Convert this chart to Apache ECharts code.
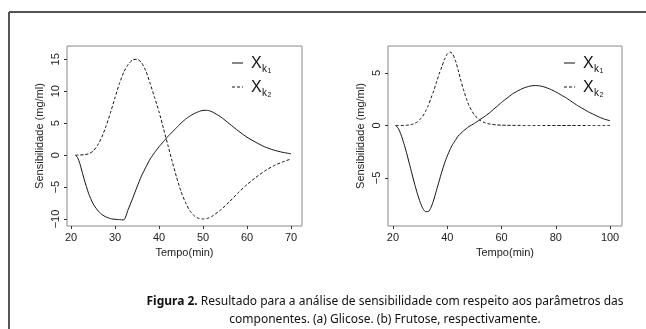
<!DOCTYPE html>
<html>
<head>
<meta charset="utf-8">
<script src="https://cdn.jsdelivr.net/npm/echarts@6/dist/echarts.min.js"></script>
<style>
  html, body { margin: 0; padding: 0; background: #fff; }
  #chart { width: 646px; height: 329px; }
</style>
</head>
<body>
<div id="chart"></div>
<script>
// (a) Glicose: sensitivity of the two parameters over time
const glicTempo = [21, 21.5, 22, 23, 24, 25, 26, 27, 28, 29, 30, 31, 32, 33, 34, 35, 36, 37, 38, 39, 40, 41, 42, 43, 44, 45, 46, 47, 48, 49, 50, 51, 52, 54, 56, 58, 60, 62, 64, 66, 68, 70];
const glicXk1 = [0, -0.4, -1.3, -3.8, -6.0, -7.6, -8.6, -9.3, -9.7, -9.95, -10.05, -10.1, -10.15, -8.5, -6.8, -5.0, -3.3, -1.9, -0.6, 0.4, 1.3, 2.1, 2.9, 3.6, 4.3, 5.0, 5.6, 6.1, 6.5, 6.8, 7.0, 7.0, 6.8, 6.0, 4.9, 3.8, 2.8, 2.0, 1.3, 0.8, 0.45, 0.2];
const glicXk2 = [0, 0, 0.02, 0.05, 0.2, 0.6, 1.5, 2.8, 4.6, 6.7, 9.0, 11.2, 13.0, 14.2, 14.9, 15.0, 14.5, 13.2, 11.2, 9.0, 6.8, 4.2, 1.6, -1.0, -3.5, -5.7, -7.4, -8.7, -9.5, -9.9, -10.0, -9.9, -9.6, -8.6, -7.3, -5.9, -4.6, -3.5, -2.5, -1.7, -1.1, -0.6];

// (b) Frutose
const frutTempo = [21, 22, 23, 24, 25, 26, 27, 28, 29, 30, 31, 32, 33, 34, 35, 36, 37, 38, 39, 40, 41, 42, 43, 44, 45, 46, 47, 48, 50, 52, 54, 56, 58, 60, 62, 64, 66, 68, 70, 72, 74, 76, 78, 80, 82, 84, 86, 88, 90, 92, 94, 96, 98, 100];
const frutXk1 = [0, -0.3, -0.9, -1.7, -2.6, -3.6, -4.6, -5.6, -6.5, -7.3, -7.9, -8.2, -8.2, -7.8, -7.1, -6.2, -5.3, -4.4, -3.6, -2.9, -2.3, -1.8, -1.4, -1.0, -0.75, -0.5, -0.3, -0.1, 0.2, 0.55, 0.9, 1.3, 1.75, 2.2, 2.6, 3.0, 3.3, 3.55, 3.72, 3.8, 3.78, 3.65, 3.45, 3.2, 2.9, 2.6, 2.25, 1.9, 1.6, 1.3, 1.05, 0.8, 0.6, 0.45];
const frutXk2 = [0, 0, 0, 0.01, 0.02, 0.05, 0.1, 0.2, 0.35, 0.6, 0.9, 1.35, 1.9, 2.6, 3.3, 4.1, 4.9, 5.6, 6.3, 6.8, 7.0, 6.8, 6.2, 5.3, 4.3, 3.4, 2.6, 1.9, 1.0, 0.5, 0.25, 0.12, 0.06, 0.03, 0.02, 0.01, 0.01, 0, 0, 0, 0, 0, 0, 0, 0, 0, 0, 0, 0, 0, 0, 0, 0, 0];

// tick labels
const glicXTicks = [20, 30, 40, 50, 60, 70];
const glicYTicks = [-10, -5, 0, 5, 10, 15];
const frutXTicks = [20, 40, 60, 80, 100];
const frutYTicks = [-5, 0, 5];

const captionBold = 'Figura 2.';
const captionLine1 = ' Resultado para a análise de sensibilidade com respeito aos parâmetros das';
const captionLine2 = 'componentes. (a) Glicose. (b) Frutose, respectivamente.';

const pairs = (xs, ys) => xs.map((x, i) => [x, ys[i]]);
const labelFont = 'Liberation Sans, Arial, sans-serif';

function xAxis(gridIndex, min, max, ticks) {
  return {
    type: 'value', gridIndex, min, max, position: 'bottom',
    name: 'Tempo(min)', nameLocation: 'middle', nameGap: 20,
    nameTextStyle: { fontFamily: labelFont, fontSize: 11, color: '#222' },
    axisLine: { show: false, onZero: false },
    splitLine: { show: false },
    axisTick: { show: true, length: 3, customValues: ticks, lineStyle: { color: '#333' } },
    axisLabel: { customValues: ticks, margin: 6, fontFamily: labelFont, fontSize: 11, color: '#222' }
  };
}
function yAxis(gridIndex, min, max, ticks) {
  return {
    type: 'value', gridIndex, min, max, position: 'left',
    name: 'Sensibilidade (mg/ml)', nameLocation: 'middle', nameRotate: 90, nameGap: 22,
    nameTextStyle: { fontFamily: labelFont, fontSize: 11, color: '#222' },
    axisLine: { show: false, onZero: false },
    splitLine: { show: false },
    axisTick: { show: true, length: 3, customValues: ticks, lineStyle: { color: '#333' } },
    axisLabel: { customValues: ticks, rotate: 90, margin: 6, fontFamily: labelFont, fontSize: 11, color: '#222',
      formatter: v => String(v).replace('-', '\u2212') }
  };
}
function lineSeries(xi, yi, data, dashed) {
  return {
    type: 'line', xAxisIndex: xi, yAxisIndex: yi, data,
    showSymbol: false, symbol: 'none', smooth: 0.2, silent: true,
    lineStyle: { color: '#111', width: 1, type: dashed ? [3, 2] : 'solid' }
  };
}
function legendGroup(x, y) {
  const items = [];
  [['1', 0, 'solid'], ['2', 24, [3, 2]]].forEach(([sub, dy, dash]) => {
    items.push({ type: 'line', shape: { x1: x, y1: y + dy, x2: x + 11, y2: y + dy },
      style: { stroke: '#111', lineWidth: 1, lineDash: dash === 'solid' ? null : dash } });
    items.push({ type: 'text', x: x + 19, y: y + dy + 1,
      style: { text: 'X', font: '16px ' + labelFont, fill: '#111', textVerticalAlign: 'middle' } });
    items.push({ type: 'text', x: x + 30, y: y + dy + 6,
      style: { text: 'k', font: '10px ' + labelFont, fill: '#111', textVerticalAlign: 'middle' } });
    items.push({ type: 'text', x: x + 35.5, y: y + dy + 8.5,
      style: { text: sub, font: '7px ' + labelFont, fill: '#111', textVerticalAlign: 'middle' } });
  });
  return items;
}

const chart = echarts.init(document.getElementById('chart'), null, { renderer: 'canvas' });
chart.setOption({
  backgroundColor: '#fff',
  animation: false,
  grid: [
    { left: 67, top: 46, width: 235, height: 180, show: true, borderColor: '#888', borderWidth: 1, backgroundColor: 'transparent' },
    { left: 388, top: 46, width: 234, height: 180, show: true, borderColor: '#888', borderWidth: 1, backgroundColor: 'transparent' }
  ],
  xAxis: [ xAxis(0, 19.09, 72.5, glicXTicks), xAxis(1, 18.16, 104.4, frutXTicks) ],
  yAxis: [ yAxis(0, -11.1, 17.08, glicYTicks), yAxis(1, -9.57, 7.57, frutYTicks) ],
  series: [
    lineSeries(0, 0, pairs(glicTempo, glicXk1), false),
    lineSeries(0, 0, pairs(glicTempo, glicXk2), true),
    lineSeries(1, 1, pairs(frutTempo, frutXk1), false),
    lineSeries(1, 1, pairs(frutTempo, frutXk2), true)
  ],
  graphic: [
    { type: 'line', shape: { x1: 9, y1: 12, x2: 646, y2: 12 }, style: { stroke: '#555', lineWidth: 2 } },
    { type: 'line', shape: { x1: 9, y1: 12, x2: 9, y2: 329 }, style: { stroke: '#555', lineWidth: 2 } },
    ...legendGroup(232, 63),
    ...legendGroup(564, 63),
    { type: 'text', x: 385, y: 302,
      style: { text: '{b|' + captionBold + '}' + captionLine1, textAlign: 'center', textVerticalAlign: 'middle',
        font: '12px "Noto Sans", sans-serif', fill: '#111',
        rich: { b: { fontWeight: 'bold', fontSize: 12, fontFamily: 'Noto Sans' } } } },
    { type: 'text', x: 385, y: 320,
      style: { text: captionLine2, textAlign: 'center', textVerticalAlign: 'middle',
        font: '12px "Noto Sans", sans-serif', fill: '#111' } }
  ]
});
</script>
</body>
</html>
